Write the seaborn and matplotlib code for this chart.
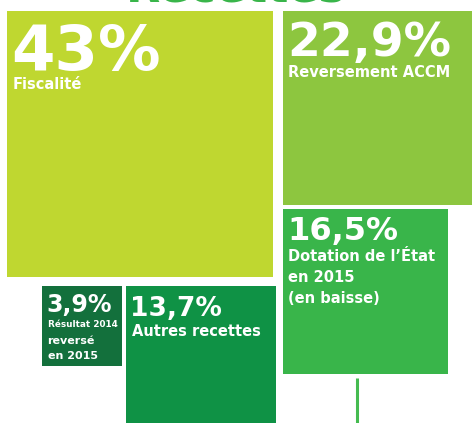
import matplotlib
matplotlib.use("Agg")
import numpy as np
import matplotlib.pyplot as plt
import seaborn as sns

# --- data ---
categories = ["Fiscalité", "Reversement ACCM", "Dotation de l’État", "Résultat 2014", "Autres recettes"]
shares = [43.0, 22.9, 16.5, 3.9, 13.7]
label_lines = [
    ["Fiscalité"],
    ["Reversement ACCM"],
    ["Dotation de l’État", "en 2015", "(en baisse)"],
    ["Résultat 2014", "reversé", "en 2015"],
    ["Autres recettes"],
]
title = "Recettes"

# --- layout / style ---
colors = ["#bfd730", "#8dc63f", "#39b54a", "#13703c", "#0f9245"]
# anchor point of each square (pixel coords, y down) and which top corner it is
anchors = [(7, 11, "left"), (283, 11, "left"), (283, 209, "left"),
           (42, 286, "left"), (276, 286, "right")]
side_k = 40.5  # square side = k * sqrt(share)
pct_size = [45, 34, 23, 17, 19]
pct_dy = [59, 45, 31, 26, 30]
line_sizes = [[10.5], [10.5], [10.5, 10.5, 10.5], [6.4, 8, 8], [10.5]]
line_dy = [[78], [66], [52, 73, 94], [41, 58, 73], [50]]
W, H = 472, 423

sns.set_theme(style="white")
plt.rcParams["font.family"] = ["DejaVu Sans"]

fig = plt.figure(figsize=(W / 100, H / 100), dpi=100)
ax = fig.add_axes([0, 0, 1, 1])
ax.set_xlim(0, W)
ax.set_ylim(H, 0)
ax.axis("off")

sides = side_k * np.sqrt(np.array(shares))
for i, (v, s) in enumerate(zip(shares, sides)):
    ax_x, ax_y, corner = anchors[i]
    left = ax_x if corner == "left" else ax_x - s
    ax.bar(left, s, width=s, bottom=ax_y, align="edge", color=colors[i], linewidth=0)
    pct = f"{v:g}".replace(".", ",") + "%"
    ax.text(left + 4, ax_y + pct_dy[i], pct, color="white", fontsize=pct_size[i],
            fontweight="bold", va="baseline", ha="left")
    for line, fs, dy in zip(label_lines[i], line_sizes[i], line_dy[i]):
        ax.text(left + 5.5, ax_y + dy, line, color="white", fontsize=fs,
                fontweight="bold", va="baseline", ha="left")

# title, mostly cut off at the top
ax.text(236, 2, title, color="#39b54a", fontsize=32, fontweight="bold",
        ha="center", va="baseline")
# small connector line below the Dotation block
ax.plot([357, 357], [378, H], color="#45bb50", linewidth=2.2, solid_capstyle="butt")

fig.savefig("out.png", dpi=100)
